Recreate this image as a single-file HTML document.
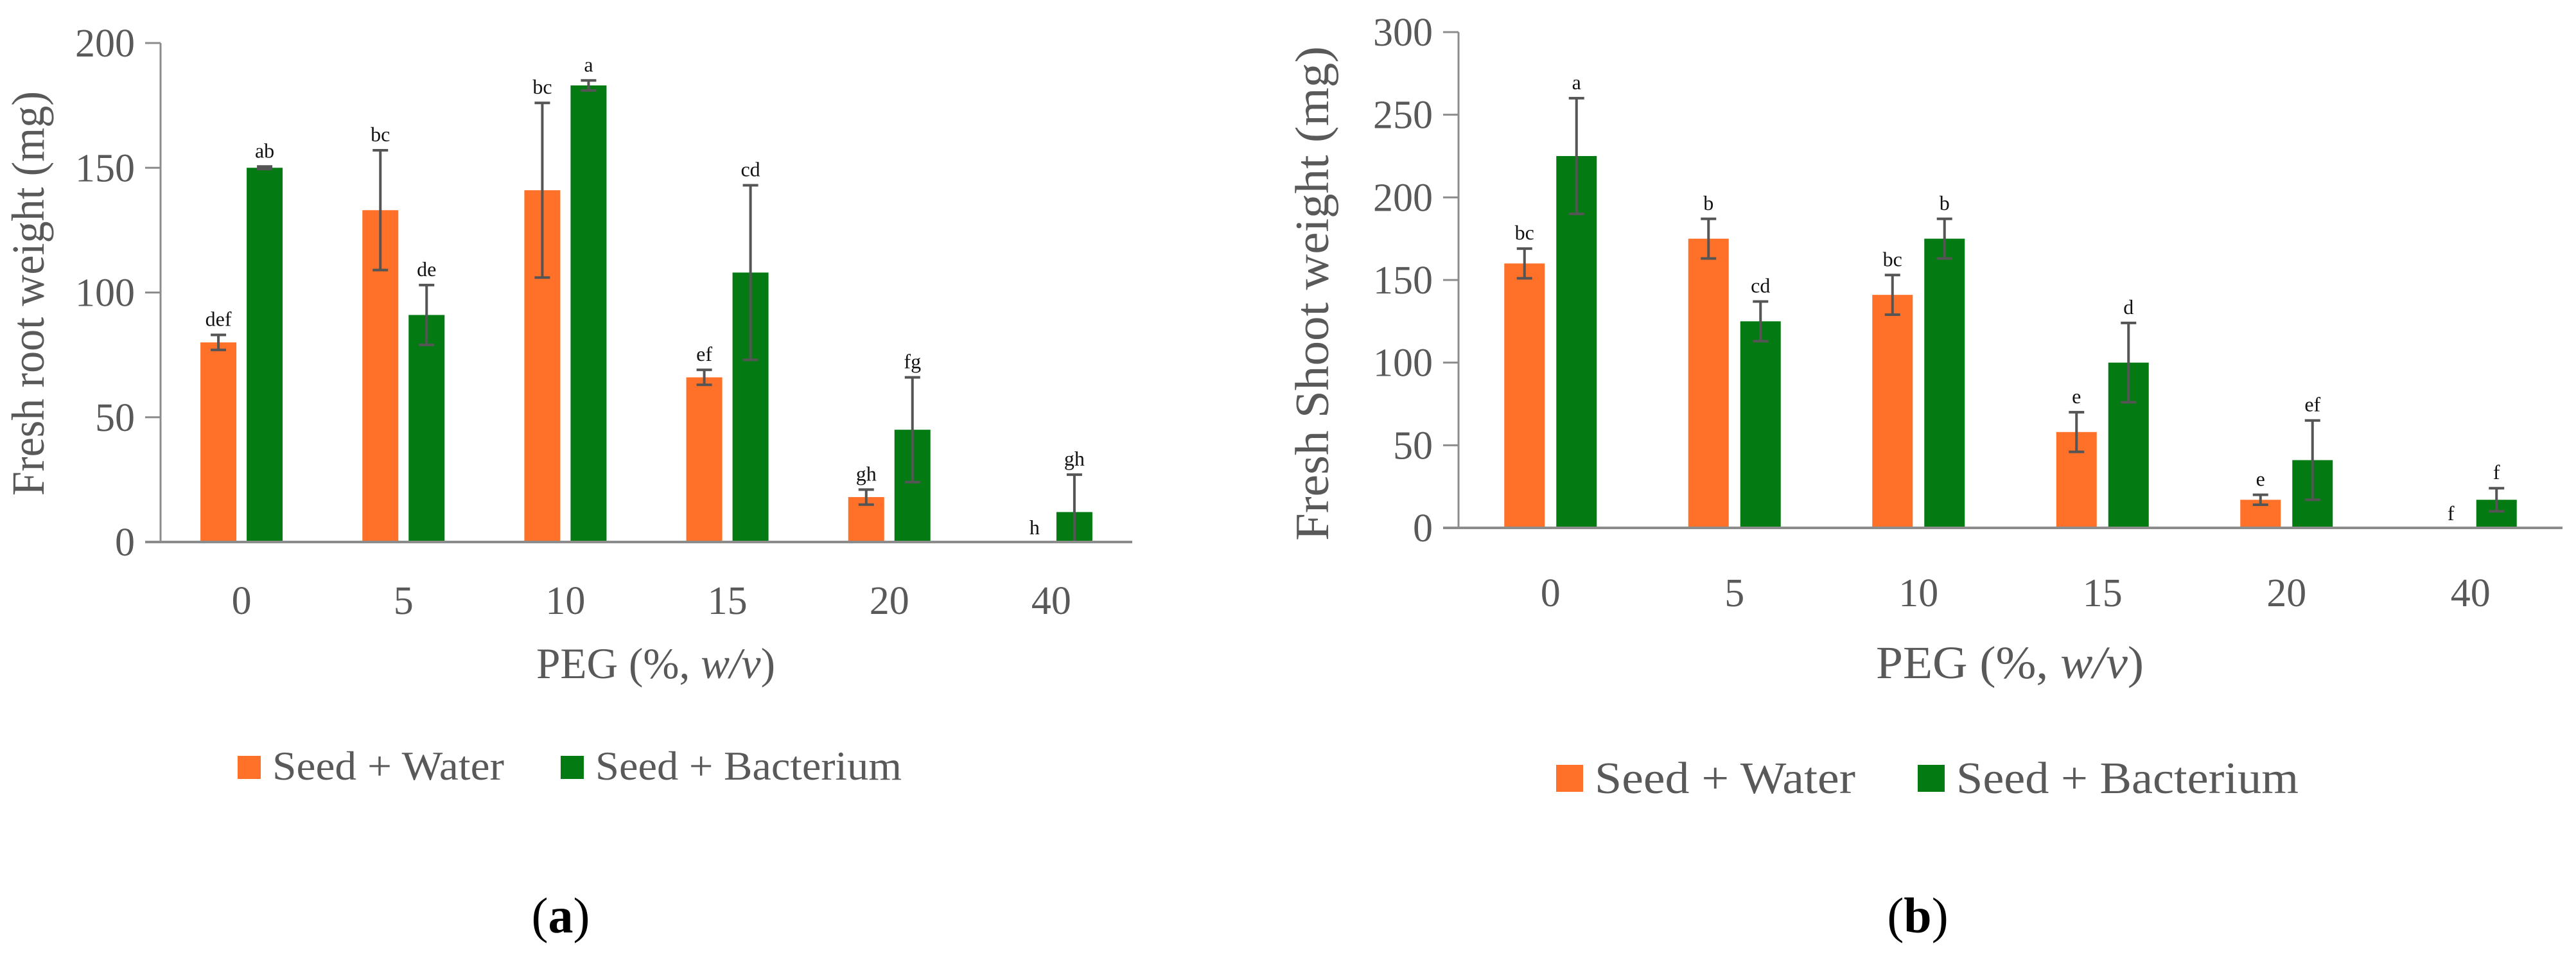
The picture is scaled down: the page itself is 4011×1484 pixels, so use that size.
<!DOCTYPE html>
<html><head><meta charset="utf-8"><style>
html,body{margin:0;padding:0;background:#fff;width:4011px;height:1484px;overflow:hidden}
svg{display:block;font-family:"Liberation Serif",serif}
text{font-family:"Liberation Serif",serif}
</style></head><body>
<svg id="svg" width="4011" height="1484" viewBox="0 0 4011 1484">
<g id="chartA"></g>
<g id="chartB"></g>
</svg>
<script>
const categories = ["0","5","10","15","20","40"];
const rootWater = [80,133,141,66,18,0];
const rootWaterErr = [3,24,35,3,3,0];
const rootBact = [150,91,183,108,45,12];
const rootBactErr = [0.5,12,2,35,21,15];
const rootWaterLetters = ["def","bc","bc","ef","gh","h"];
const rootBactLetters = ["ab","de","a","cd","fg","gh"];
const rootTicks = [0,50,100,150,200];
const shootWater = [160,175,141,58,17,0];
const shootWaterErr = [9,12,12,12,3,0];
const shootBact = [225,125,175,100,41,17];
const shootBactErr = [35,12,12,24,24,7];
const shootWaterLetters = ["bc","b","bc","e","e","f"];
const shootBactLetters = ["a","cd","b","d","ef","f"];
const shootTicks = [0,50,100,150,200,250,300];

const NS="http://www.w3.org/2000/svg";
function mk(parent,tag,attrs,text){const e=document.createElementNS(NS,tag);for(const k in attrs)e.setAttribute(k,attrs[k]);if(text!==undefined)e.textContent=text;parent.appendChild(e);return e;}

function drawChart(g,cfg){
  const yS=v=>cfg.y0-(v/cfg.max)*(cfg.y0-cfg.yTop);
  const step=(cfg.x1-cfg.x0)/categories.length;
  const xC=i=>cfg.x0+step*(i+0.5);
  cfg.ticks.forEach(t=>{
    const y=yS(t);
    const tk=mk(g,'line',{x1:cfg.x0-24,x2:cfg.x0,y1:y,y2:y,stroke:'#8c8c8c','stroke-width':3});
    
    
    const tl=mk(g,'text',{x:cfg.x0-40,y:y+21,'text-anchor':'end','font-size':cfg.tickFs,fill:'#595959'},String(t));
    
    
  });
  const ya=mk(g,'line',{x1:cfg.x0,x2:cfg.x0,y1:cfg.yTop,y2:cfg.y0,stroke:'#8c8c8c','stroke-width':3});
  
  
  categories.forEach((c,i)=>{
    const cx=xC(i);
    const series=[[cfg.w,cfg.we,cfg.wl,'#ff7129',-1],[cfg.b,cfg.be,cfg.bl,'#037b12',1]];
    series.forEach(([vals,errs,lets,col,side],si)=>{
      const bx=side<0?cx-cfg.gap/2-cfg.bw:cx+cfg.gap/2;
      const mx=bx+cfg.bw/2;
      const v=vals[i];
      if(v>0){
        const r=mk(g,'rect',{x:bx,y:yS(v),width:cfg.bw,height:cfg.y0-yS(v),fill:col});
        
        
        const e=errs[i];
        const top=yS(v+e), bot=Math.min(cfg.y0,yS(v-e));
        const el=mk(g,'path',{d:`M${mx},${top}V${bot}M${mx-12},${top}H${mx+12}`+(bot<cfg.y0?`M${mx-12},${bot}H${mx+12}`:''),stroke:'#555','stroke-width':4,fill:'none'});
        
        
        const lt=mk(g,'text',{x:mx,y:top-14,'text-anchor':'middle','font-size':cfg.letFs,fill:'#111'},lets[i]);
        
        
      } else {
        const lt=mk(g,'text',{x:mx+10,y:cfg.y0-12,'text-anchor':'middle','font-size':cfg.letFs,fill:'#111'},lets[i]);
        
        
      }
    });
    const xl=mk(g,'text',{x:cx,y:cfg.xLabY,'text-anchor':'middle','font-size':cfg.tickFs,fill:'#595959'},c);
    
    
  });
  const xa=mk(g,'line',{x1:cfg.x0-24,x2:cfg.x1,y1:cfg.y0,y2:cfg.y0,stroke:'#8c8c8c','stroke-width':4});
  
  
}

const gA=document.getElementById('chartA');
drawChart(gA,{x0:250,x1:1763,y0:844,yTop:67,max:200,ticks:rootTicks,w:rootWater,we:rootWaterErr,b:rootBact,be:rootBactErr,wl:rootWaterLetters,bl:rootBactLetters,bw:56,gap:16,tickFs:62,letFs:32,xLabY:956});
const gB=document.getElementById('chartB');
drawChart(gB,{x0:2271,x1:3990,y0:822,yTop:50,max:300,ticks:shootTicks,w:shootWater,we:shootWaterErr,b:shootBact,be:shootBactErr,wl:shootWaterLetters,bl:shootBactLetters,bw:63,gap:18,tickFs:62,letFs:32,xLabY:944});
</script>
<svg width="4011" height="1484" viewBox="0 0 4011 1484" style="position:absolute;left:0;top:0">
<text font-family="Liberation Serif, serif" transform="translate(68,457) rotate(-90)" text-anchor="middle" font-size="72" fill="#595959" textLength="630" lengthAdjust="spacingAndGlyphs">Fresh root weight (mg)</text>
<text font-family="Liberation Serif, serif" x="835" y="1056" font-size="68" fill="#595959" textLength="372" lengthAdjust="spacingAndGlyphs">PEG (%,  <tspan font-style="italic">w/v</tspan>)</text>
<rect x="370" y="1177" width="36" height="36" fill="#ff7129"/>
<text font-family="Liberation Serif, serif" x="424" y="1214" font-size="64" fill="#595959" textLength="361" lengthAdjust="spacingAndGlyphs">Seed + Water</text>
<rect x="873" y="1177" width="36" height="36" fill="#037b12"/>
<text font-family="Liberation Serif, serif" x="927" y="1214" font-size="64" fill="#595959" textLength="477" lengthAdjust="spacingAndGlyphs">Seed + Bacterium</text>
<text font-family="Liberation Serif, serif" x="873" y="1452" text-anchor="middle" font-size="78" fill="#000">(<tspan font-weight="bold">a</tspan>)</text>

<text font-family="Liberation Serif, serif" transform="translate(2068,457) rotate(-90)" text-anchor="middle" font-size="74" fill="#595959" textLength="770" lengthAdjust="spacingAndGlyphs">Fresh Shoot  weight (mg)</text>
<text font-family="Liberation Serif, serif" x="2921" y="1056" font-size="72" fill="#595959" textLength="417" lengthAdjust="spacingAndGlyphs">PEG  (%, <tspan font-style="italic">w/v</tspan>)</text>
<rect x="2423" y="1191" width="42" height="42" fill="#ff7129"/>
<text font-family="Liberation Serif, serif" x="2483" y="1235" font-size="70" fill="#595959" textLength="406" lengthAdjust="spacingAndGlyphs">Seed + Water</text>
<rect x="2986" y="1191" width="42" height="42" fill="#037b12"/>
<text font-family="Liberation Serif, serif" x="3046" y="1235" font-size="70" fill="#595959" textLength="533" lengthAdjust="spacingAndGlyphs">Seed + Bacterium</text>
<text font-family="Liberation Serif, serif" x="2986" y="1452" text-anchor="middle" font-size="78" fill="#000">(<tspan font-weight="bold">b</tspan>)</text>
</svg>
</body></html>
